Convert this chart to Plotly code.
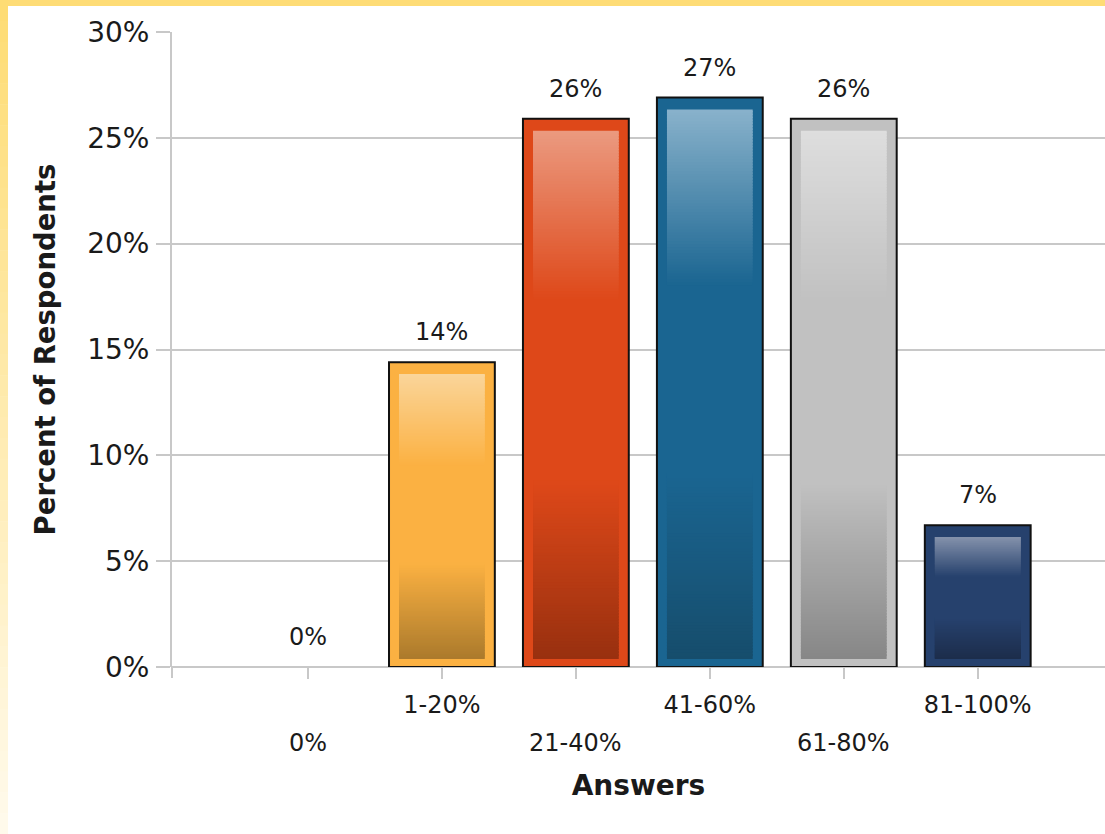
import plotly.graph_objects as go

# ---- data ----
categories = ["0%", "1-20%", "21-40%", "41-60%", "61-80%", "81-100%"]
percent_respondents = [0.0, 14.4, 25.9, 26.9, 25.9, 6.7]
y_tick_values = [0, 5, 10, 15, 20, 25, 30]
y_tick_labels = ["0%", "5%", "10%", "15%", "20%", "25%", "30%"]

# ---- styling ----
base_colors = ["#7f7f7f", "#fbb142", "#de4819", "#1a6591", "#c1c1c1", "#26416d"]
light_colors = ["#bfbfbf", "#fad59a", "#eb9a80", "#89b2cb", "#dedede", "#8391ab"]
dark_colors = ["#4f4f4f", "#ab7a2c", "#98300f", "#164d6c", "#878787", "#1c2c4a"]

FONT = "DejaVu Sans"
TEXT_COLOR = "#1a1a1a"
GRID_COLOR = "#c8c8c8"

Y_MAX = 30
OUTER_WIDTH = 0.79
INNER_WIDTH = 0.64
INSET_TOP = 0.56      # in axis units (percent)
INSET_BOTTOM = 0.38
SLICES = 60           # slices per shaded zone
# shaded zones of the inner panel: (start, end) as fraction of panel height
ZONES = [(0.0, 0.335, "dark"), (0.68, 1.0, "light")]

# page geometry
W, H = 1105, 834
M_L, M_R, M_T, M_B = 172, 0, 32, 167
PW, PH = W - M_L - M_R, H - M_T - M_B
X_RANGE = [-1.015, 5.95]


def hex_to_rgb(h):
    h = h.lstrip("#")
    return tuple(int(h[i:i + 2], 16) for i in (0, 2, 4))


def mix(c1, c2, t):
    a, b = hex_to_rgb(c1), hex_to_rgb(c2)
    return "rgb({},{},{})".format(*[round(a[i] + (b[i] - a[i]) * t) for i in range(3)])


fig = go.Figure()

# outer bars with dark outline
fig.add_trace(go.Bar(
    x=categories, y=percent_respondents, width=OUTER_WIDTH,
    marker=dict(color=base_colors,
                line=dict(color="#111111",
                          width=[2 if v > 0 else 0 for v in percent_respondents])),
    hoverinfo="skip", showlegend=False,
))

# inner glossy panel: darker foot and lighter head, built from thin slices
for z0, z1, kind in ZONES:
    for j in range(SLICES):
        f0 = z0 + (z1 - z0) * j / SLICES
        f1 = z0 + (z1 - z0) * (j + 1) / SLICES
        s = (j + 0.5) / SLICES
        bases, heights, colors = [], [], []
        for i, v in enumerate(percent_respondents):
            lo, hi = INSET_BOTTOM, v - INSET_TOP
            span = hi - lo
            if span <= 0:
                bases.append(0)
                heights.append(0)
            else:
                bases.append(lo + f0 * span)
                grow = 1.0 if (kind == "light" and j == SLICES - 1) else 1.6
                heights.append((f1 - f0) * span * grow)
            if kind == "dark":
                colors.append(mix(dark_colors[i], base_colors[i], s))
            else:
                colors.append(mix(base_colors[i], light_colors[i], s))
        fig.add_trace(go.Bar(
            x=categories, y=heights, base=bases, width=INNER_WIDTH,
            marker=dict(color=colors, line=dict(width=0)),
            hoverinfo="skip", showlegend=False,
        ))

# value labels above bars
for c, v in zip(categories, percent_respondents):
    fig.add_annotation(
        x=c, y=v, text=f"{v:.0f}%", showarrow=False,
        yanchor="middle", yshift=30,
        font=dict(family=FONT, size=24, color=TEXT_COLOR),
    )

# staggered category labels: odd categories sit on the tick row,
# even categories on a second row below it
upper_row = [c if i % 2 == 1 else "" for i, c in enumerate(categories)]
for i, c in enumerate(categories):
    if i % 2 == 0:
        fig.add_annotation(
            x=c, xref="x", y=0, yref="paper", text=c, showarrow=False,
            yanchor="middle", yshift=-76,
            font=dict(family=FONT, size=24, color=TEXT_COLOR),
        )


# page border: solid top strip, fading left strip
def px_x(px):
    return (px - M_L) / PW


def px_y(py):
    return (H - M_B - py) / PH


shapes = [dict(type="rect", xref="paper", yref="paper", layer="below",
               x0=px_x(0), x1=px_x(W), y0=px_y(6), y1=px_y(0),
               fillcolor="#fedc76", line=dict(width=0))]
n_bands = 40
for b in range(n_bands):
    y0p, y1p = b * H / n_bands, (b + 1) * H / n_bands
    shapes.append(dict(type="rect", xref="paper", yref="paper", layer="below",
                       x0=px_x(0), x1=px_x(8), y0=px_y(y1p + 0.5), y1=px_y(y0p),
                       fillcolor=mix("#fedc74", "#fffaeb", b / (n_bands - 1)),
                       line=dict(width=0)))
# value axis line continues a little below the category axis
shapes.append(dict(type="line", xref="paper", yref="paper",
                   x0=0, x1=0, y0=0, y1=-11 / PH,
                   line=dict(color=GRID_COLOR, width=2)))

fig.update_layout(
    width=W, height=H,
    margin=dict(l=M_L, r=M_R, t=M_T, b=M_B, autoexpand=False),
    paper_bgcolor="white", plot_bgcolor="white",
    barmode="overlay",
    shapes=shapes,
    font=dict(family=FONT, color=TEXT_COLOR),
    xaxis=dict(
        type="category", categoryorder="array", categoryarray=categories,
        range=X_RANGE, showgrid=False, zeroline=False, showline=False,
        tickmode="array", tickvals=categories, ticktext=upper_row,
        ticks="outside", ticklen=11, tickwidth=2, tickcolor=GRID_COLOR,
        tickfont=dict(family=FONT, size=24, color=TEXT_COLOR),
        ticklabelstandoff=5,
        title=dict(text="<b>Answers</b>", standoff=57,
                   font=dict(family=FONT, size=28, color=TEXT_COLOR)),
        fixedrange=True,
    ),
    yaxis=dict(
        range=[0, Y_MAX], tickmode="array", tickvals=y_tick_values,
        ticktext=y_tick_labels,
        showgrid=True, gridcolor=GRID_COLOR, gridwidth=2,
        zeroline=True, zerolinecolor=GRID_COLOR, zerolinewidth=2,
        showline=True, linecolor=GRID_COLOR, linewidth=2,
        ticks="outside", ticklen=14, tickwidth=2, tickcolor=GRID_COLOR,
        tickfont=dict(family=FONT, size=28, color=TEXT_COLOR),
        ticklabelstandoff=1,
        title=dict(text="<b>Percent of Respondents</b>", standoff=24,
                   font=dict(family=FONT, size=27.5, color=TEXT_COLOR)),
        fixedrange=True,
    ),
)

fig.write_html("out.html", config={"displayModeBar": False})
